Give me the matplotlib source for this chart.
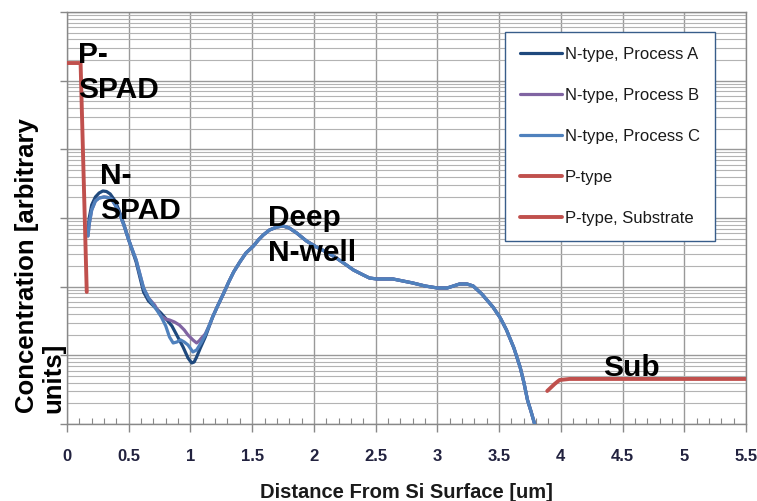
import matplotlib
matplotlib.use("Agg")
import matplotlib.pyplot as plt
import numpy as np
from matplotlib.ticker import MultipleLocator, LogLocator, NullFormatter

plt.rcParams['font.family'] = ['Liberation Sans', 'DejaVu Sans']

# ---------------- data (log10 of concentration, arbitrary units) ----------------
# Process-specific near-surface parts
x_head_a = [0.17, 0.18, 0.20, 0.23, 0.26, 0.29, 0.32, 0.35, 0.39, 0.42, 0.46, 0.50, 0.53,
            0.56, 0.59, 0.62, 0.66, 0.71, 0.76, 0.81, 0.85, 0.88, 0.91, 0.94, 0.98, 1.01,
            1.03, 1.05, 1.08, 1.12, 1.15]
log_head_a = [16.796, 17.000, 17.190, 17.306, 17.364, 17.393, 17.386, 17.350, 17.248,
              17.117, 16.913, 16.680, 16.520, 16.359, 16.141, 15.923, 15.792, 15.704,
              15.617, 15.515, 15.427, 15.326, 15.224, 15.122, 14.962, 14.889, 14.903,
              14.976, 15.107, 15.267, 15.413]

x_head_b = [0.17, 0.18, 0.20, 0.23, 0.26, 0.30, 0.33, 0.36, 0.39, 0.42, 0.46, 0.50, 0.53,
            0.56, 0.59, 0.62, 0.66, 0.71, 0.76, 0.80, 0.83, 0.87, 0.91, 0.95, 0.98, 1.02,
            1.05, 1.07, 1.09, 1.12, 1.15]
log_head_b = [16.738, 16.913, 17.117, 17.248, 17.291, 17.306, 17.299, 17.277, 17.190,
              17.088, 16.898, 16.680, 16.534, 16.389, 16.185, 15.981, 15.835, 15.733,
              15.573, 15.529, 15.515, 15.486, 15.442, 15.369, 15.296, 15.224, 15.180,
              15.209, 15.253, 15.311, 15.427]

x_head_c = [0.17, 0.18, 0.20, 0.23, 0.26, 0.30, 0.33, 0.36, 0.39, 0.42, 0.46, 0.50, 0.53,
            0.56, 0.59, 0.62, 0.66, 0.71, 0.76, 0.80, 0.83, 0.86, 0.89, 0.92, 0.95, 0.98,
            1.02, 1.05, 1.09, 1.12, 1.15]
log_head_c = [16.738, 16.913, 17.117, 17.248, 17.291, 17.306, 17.299, 17.277, 17.190,
              17.088, 16.898, 16.680, 16.534, 16.389, 16.185, 15.981, 15.835, 15.704,
              15.573, 15.427, 15.267, 15.180, 15.194, 15.224, 15.194, 15.151, 15.049,
              15.078, 15.194, 15.296, 15.427]

# Shared deep part (all three N-type processes coincide)
x_tail = [1.18, 1.22, 1.27, 1.31, 1.35, 1.40, 1.45, 1.51, 1.55, 1.59, 1.64, 1.70, 1.75,
          1.80, 1.86, 1.94, 2.02, 2.10, 2.17, 2.24, 2.32, 2.40, 2.45, 2.51, 2.58, 2.64,
          2.72, 2.80, 2.90, 3.00, 3.08, 3.13, 3.18, 3.24, 3.29, 3.36, 3.45, 3.51, 3.56,
          3.62, 3.67, 3.70, 3.73, 3.76, 3.79]
log_tail = [15.559, 15.719, 15.908, 16.068, 16.214, 16.359, 16.491, 16.592, 16.680,
            16.753, 16.825, 16.869, 16.884, 16.855, 16.782, 16.665, 16.578, 16.505,
            16.432, 16.345, 16.243, 16.170, 16.126, 16.112, 16.112, 16.112, 16.083,
            16.054, 16.010, 15.981, 15.981, 16.010, 16.039, 16.039, 16.010, 15.893,
            15.704, 15.544, 15.369, 15.107, 14.830, 14.612, 14.350, 14.175, 13.986]

x_p = [0.0, 0.11, 0.16]
log_p = [19.257, 19.257, 15.923]

x_sub = [3.89, 3.95, 3.99, 4.07, 4.30, 5.50]
log_sub = [14.481, 14.583, 14.641, 14.656, 14.656, 14.656]

series_labels = ["N-type, Process A", "N-type, Process B", "N-type, Process C",
                 "P-type", "P-type, Substrate"]
x_ticks = [0, 0.5, 1, 1.5, 2, 2.5, 3, 3.5, 4, 4.5, 5, 5.5]
x_tick_labels = ["0", "0.5", "1", "1.5", "2", "2.5", "3", "3.5", "4", "4.5", "5", "5.5"]

annotations = [("P-\nSPAD", 0.09, 19.578),
               ("N-\nSPAD", 0.267, 17.816),
               ("Deep\nN-well", 1.628, 17.204),
               ("Sub", 4.34, 15.020)]

# ---------------- figure ----------------
fig = plt.figure(figsize=(7.57, 5.01), dpi=100)
ax = fig.add_axes([67/757, 1-424/501, (746-67)/757, (424-12)/501])

def conc(logs):
    return 10.0 ** np.asarray(logs)

col_a, col_b, col_c, col_r = '#1F497D', '#8064A2', '#4F81BD', '#C0504D'
kw = dict(solid_joinstyle='round', solid_capstyle='round', zorder=3)
ax.plot(x_head_a + x_tail, conc(log_head_a + log_tail), color=col_a, lw=2.3, label=series_labels[0], **kw)
ax.plot(x_head_b + x_tail, conc(log_head_b + log_tail), color=col_b, lw=2.3, label=series_labels[1], **kw)
ax.plot(x_head_c + x_tail, conc(log_head_c + log_tail), color=col_c, lw=2.3, label=series_labels[2], **kw)
ax.plot(x_p, conc(log_p), color=col_r, lw=2.8, label=series_labels[3], **kw)
ax.plot(x_sub, conc(log_sub), color=col_r, lw=2.8, label=series_labels[4], **kw)

ax.set_yscale('log')
ax.set_xlim(0, 5.5)
ax.set_ylim(1e14, 1e20)

ax.set_xticks(x_ticks)
ax.set_xticklabels(x_tick_labels, fontsize=12, fontweight='bold', color='#22223f')
ax.xaxis.set_minor_locator(MultipleLocator(0.1))
ax.yaxis.set_major_locator(LogLocator(base=10, numticks=20))
ax.yaxis.set_minor_locator(LogLocator(base=10, subs=range(2, 10), numticks=200))
ax.yaxis.set_major_formatter(NullFormatter())
ax.yaxis.set_minor_formatter(NullFormatter())

ax.tick_params(axis='x', which='major', direction='out', length=6, width=1, color='#888888', pad=12)
ax.tick_params(axis='x', which='minor', direction='in', length=4, width=0.8, color='#888888')
ax.tick_params(axis='y', which='major', direction='out', length=5, width=1, color='#888888')
ax.tick_params(axis='y', which='minor', length=0)

ax.grid(True, which='major', axis='x', color='#999999', lw=1.0, zorder=0)
ax.grid(True, which='major', axis='y', color='#999999', lw=1.0, zorder=0)
ax.grid(True, which='minor', axis='y', color='#b3b3b3', lw=0.8, zorder=0)
ax.set_axisbelow(True)
for s in ax.spines.values():
    s.set_color('#888888')
    s.set_linewidth(1.0)

for txt, tx, ty in annotations:
    ax.text(tx, 10.0 ** ty, txt, fontsize=21.5, fontweight='bold', color='black',
            ha='left', va='top', linespacing=1.3, zorder=5)

ax.set_xlabel("Distance From Si Surface [um]", fontsize=14.5, fontweight='bold',
              color='#1a1a1a', labelpad=14)
fig.text(40/757, (501-413)/501, "Concentration [arbitrary\nunits]", rotation=90,
         ha='center', va='bottom', multialignment='left', fontsize=18.5,
         fontweight='bold', color='black', linespacing=1.15)

leg = ax.legend(loc='upper left', bbox_to_anchor=(0.645, 0.951), fontsize=12,
                frameon=True, fancybox=False, framealpha=1, edgecolor='#385D8A',
                handlelength=2.5, handletextpad=0.2, labelspacing=1.55,
                borderpad=0.9, borderaxespad=0)
leg.get_frame().set_linewidth(1.0)
leg.set_zorder(6)
for t in leg.get_texts():
    t.set_color('#1a1a1a')

fig.savefig("out.png", dpi=100, facecolor='white')
